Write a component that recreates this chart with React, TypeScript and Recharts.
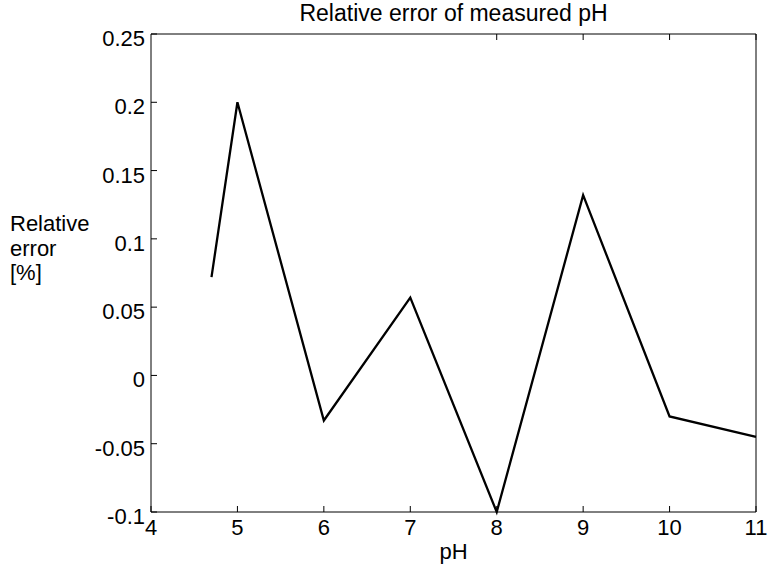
import React from 'react'
import { LineChart, Line, XAxis, YAxis } from 'recharts'

// measured pH vs relative error [%]
const PH = [4.7, 5, 6, 7, 8, 9, 10, 11]
const REL_ERROR = [0.072, 0.2, -0.033, 0.057, -0.1, 0.132, -0.03, -0.045]

const X_TICKS = [4, 5, 6, 7, 8, 9, 10, 11]
const Y_TICKS = [-0.1, -0.05, 0, 0.05, 0.1, 0.15, 0.2, 0.25]
const Y_LABEL_LINES = ['Relative', 'error', '[%]']

const FONT = '"Liberation Sans", Arial, sans-serif'
const FS = 22
const TICK_LEN = 6
// negative tickSize -> ticks point into the box, like MATLAB
const TL = { stroke: '#000', strokeWidth: 1 }

const data = PH.map((ph, i) => ({ ph, err: REL_ERROR[i] }))

function BottomTick(props: any) {
  const { x, y, payload } = props
  return (
    <text x={x} y={y + TICK_LEN + 23} textAnchor="middle" fontSize={FS} fontFamily={FONT} fill="#000">
      {payload.value}
    </text>
  )
}

function LeftTick(props: any) {
  const { x, y, payload } = props
  return (
    <text x={x - TICK_LEN - 6} y={y + 12} textAnchor="end" fontSize={FS} fontFamily={FONT} fill="#000">
      {String(payload.value)}
    </text>
  )
}

const NoLabel = () => <g />

export default function App() {
  return (
    <div style={{ position: 'absolute', left: 0, top: 0, width: 769, height: 566, background: '#fff', fontFamily: FONT }}>
      <LineChart width={769} height={566} data={data} margin={{ top: 33, right: 12, left: 0, bottom: 0 }}>
        <XAxis xAxisId="b" dataKey="ph" type="number" domain={[4, 11]} ticks={X_TICKS} interval={0} height={54}
          tickSize={-TICK_LEN} tickMargin={0} tickLine={TL} axisLine={{ stroke: '#000' }} tick={<BottomTick />} />
        <XAxis xAxisId="t" orientation="top" type="number" domain={[4, 11]} ticks={X_TICKS} interval={0} height={1}
          tickSize={-TICK_LEN} tickMargin={0} tickLine={TL} axisLine={{ stroke: '#000' }} tick={<NoLabel />} />
        <YAxis yAxisId="l" type="number" domain={[-0.1, 0.25]} ticks={Y_TICKS} interval={0} width={151}
          tickSize={-TICK_LEN} tickMargin={0} tickLine={TL} axisLine={{ stroke: '#000' }} tick={<LeftTick />} />
        <YAxis yAxisId="r" orientation="right" type="number" domain={[-0.1, 0.25]} ticks={Y_TICKS} interval={0} width={1}
          tickSize={-TICK_LEN} tickMargin={0} tickLine={TL} axisLine={{ stroke: '#000' }} tick={<NoLabel />} />
        <Line xAxisId="b" yAxisId="l" type="linear" dataKey="err" stroke="#000" strokeWidth={2.3}
          dot={false} activeDot={false} isAnimationActive={false} />
      </LineChart>

      <div style={{ position: 'absolute', left: 151, width: 605, top: 1, textAlign: 'center', fontSize: 23, lineHeight: '24px' }}>
        Relative error of measured pH
      </div>
      <div style={{ position: 'absolute', left: 151, width: 605, top: 540, textAlign: 'center', fontSize: FS, lineHeight: '24px' }}>
        pH
      </div>
      <div style={{ position: 'absolute', left: 10, top: 212, fontSize: FS, lineHeight: '24.5px' }}>
        {Y_LABEL_LINES.map(l => (
          <div key={l}>{l}</div>
        ))}
      </div>
    </div>
  )
}
